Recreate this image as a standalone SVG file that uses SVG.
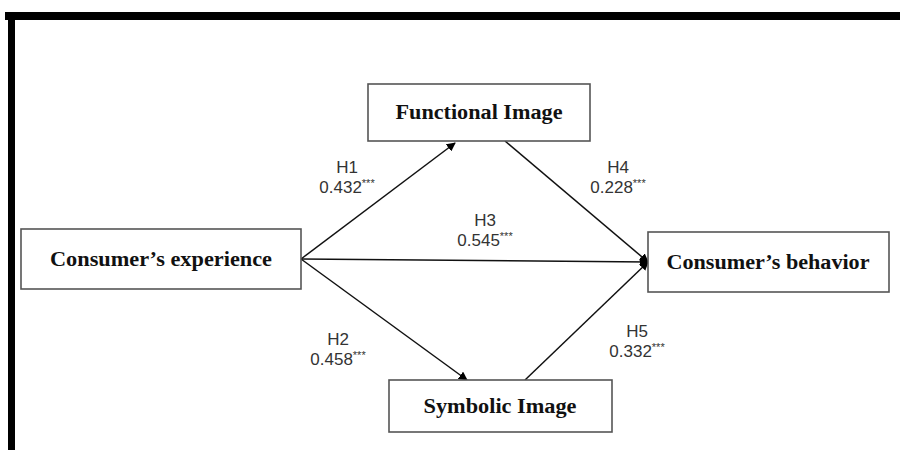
<svg xmlns="http://www.w3.org/2000/svg" width="900" height="450" viewBox="0 0 900 450">
<style>
.box{fill:#fff;stroke:#555;stroke-width:1.6}
.bt{font-family:"Liberation Serif",serif;font-weight:bold;font-size:20px;fill:#111;text-anchor:middle}
.lb{font-family:"Liberation Sans",sans-serif;font-size:17px;fill:#333;text-anchor:middle}
.sup{font-size:11px}
.ln{stroke:#111;stroke-width:1.5;fill:none;marker-end:url(#ah)}
</style>
<defs>
<marker id="ah" viewBox="0 0 10 10" refX="9" refY="5" markerWidth="9" markerHeight="9" markerUnits="userSpaceOnUse" orient="auto"><path d="M0,0 L10,5 L0,10 z" fill="#000"/></marker>
</defs>
<rect width="900" height="450" fill="#fff"/>
<rect x="5" y="12" width="895" height="8" fill="#000"/>
<rect x="8" y="12" width="7" height="438" fill="#000"/>
<g id="connectors">
<line class="ln" x1="301" y1="259" x2="455" y2="143"/>
<line class="ln" x1="301" y1="259" x2="467" y2="380"/>
<line class="ln" x1="301" y1="259" x2="648" y2="262"/>
<line class="ln" x1="505" y1="141" x2="648" y2="262"/>
<line class="ln" x1="525" y1="380" x2="648" y2="262"/>
</g>
<g id="exp"><rect class="box" x="21" y="229" width="280" height="60"/><text class="bt" x="161" y="266" textLength="222" lengthAdjust="spacingAndGlyphs">Consumer’s experience</text></g>
<g id="func"><rect class="box" x="368" y="84" width="222" height="57"/><text class="bt" x="479" y="119" textLength="167" lengthAdjust="spacingAndGlyphs">Functional Image</text></g>
<g id="symb"><rect class="box" x="389" y="380" width="223" height="52"/><text class="bt" x="500" y="413" textLength="153" lengthAdjust="spacingAndGlyphs">Symbolic Image</text></g>
<g id="beh"><rect class="box" x="648" y="232" width="241" height="60"/><text class="bt" x="768" y="269" textLength="203" lengthAdjust="spacingAndGlyphs">Consumer’s behavior</text></g>
<g id="labels">
<text class="lb" x="347" y="173">H1</text><text class="lb" x="347" y="193">0.432<tspan class="sup" dy="-6">***</tspan></text>
<text class="lb" x="618" y="173">H4</text><text class="lb" x="618" y="193">0.228<tspan class="sup" dy="-6">***</tspan></text>
<text class="lb" x="485" y="226">H3</text><text class="lb" x="485" y="246">0.545<tspan class="sup" dy="-6">***</tspan></text>
<text class="lb" x="338" y="345">H2</text><text class="lb" x="338" y="365">0.458<tspan class="sup" dy="-6">***</tspan></text>
<text class="lb" x="637" y="337">H5</text><text class="lb" x="637" y="357">0.332<tspan class="sup" dy="-6">***</tspan></text>
</g>
</svg>
